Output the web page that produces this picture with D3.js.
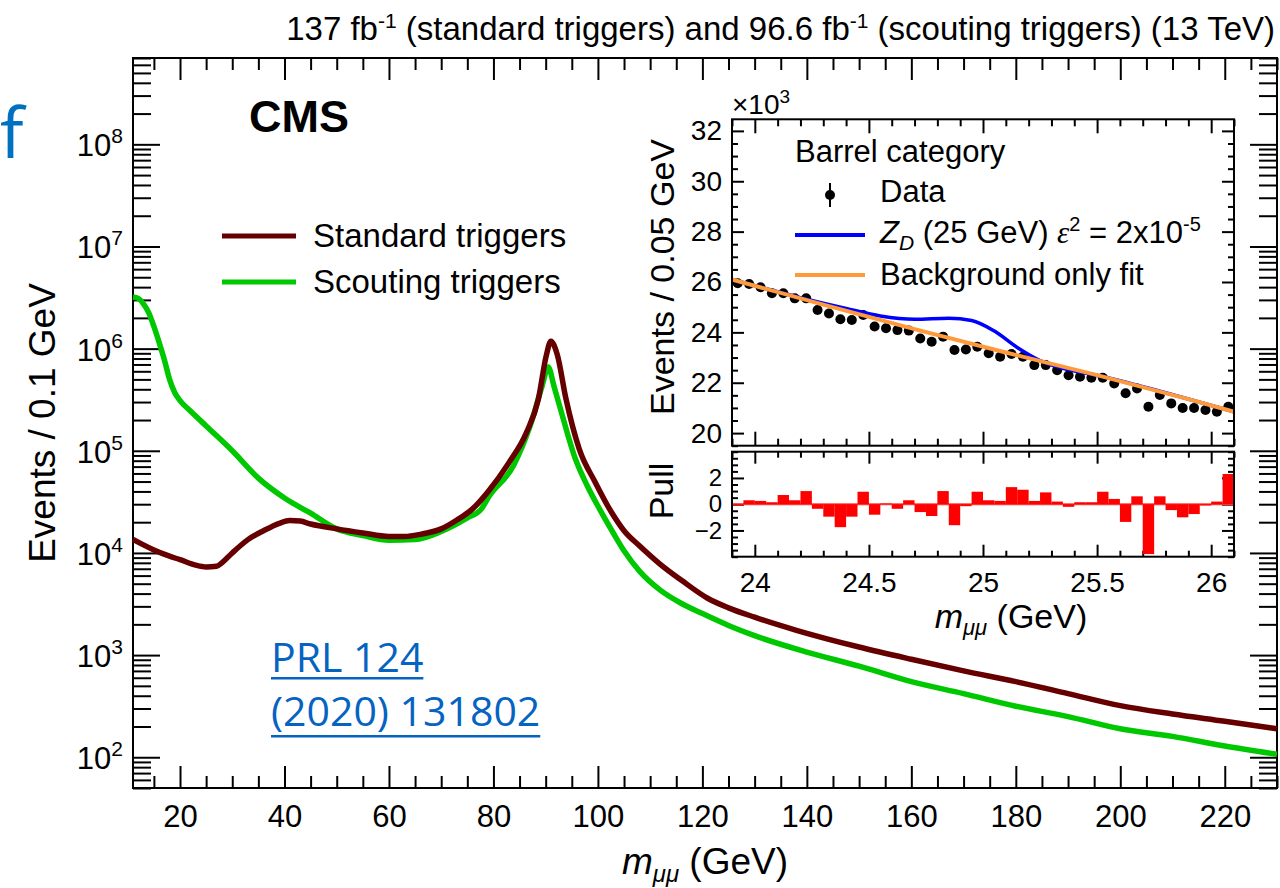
<!DOCTYPE html>
<html lang="en">
<head>
<meta charset="UTF-8">
<title>CMS dimuon spectrum</title>
<script src="https://d3js.org/d3.v7.min.js"></script>
<style>
  body { margin: 0; background: #fff; }
  svg { display: block; }
</style>
</head>
<body>
<svg id="mainsvg" width="1280" height="888"></svg>
<script>
// ---- data ----
// main plot: m_mumu (GeV) vs events / 0.1 GeV
const stdMass   = [11, 13, 15, 18, 20, 23, 25, 27, 28, 30, 33, 36, 39, 41, 43, 45, 50, 55, 60, 63, 66, 70, 73, 76, 79, 83, 86.3, 88.6, 90.1, 91.0, 92.2, 93.9, 96.4, 99.5, 102.6, 105, 108, 112, 116, 121, 125, 130, 138, 150, 160, 170, 180, 190, 200, 210, 220, 230];
const stdEvents = [13600, 12000, 10700, 9300, 8600, 7600, 7300, 7400, 8000, 10000, 13500, 16500, 19500, 20800, 20500, 19200, 17200, 15700, 14500, 14500, 15200, 17200, 21000, 27000, 40000, 77000, 150000, 320000, 850000, 1180000, 880000, 320000, 105000, 49000, 25000, 16500, 11700, 7700, 5400, 3600, 2900, 2350, 1750, 1200, 910, 700, 550, 420, 320, 265, 225, 190];

const scoMass   = [11, 12, 13, 14, 15, 16, 17, 18, 19, 20, 22, 25, 30, 35, 40, 45, 50, 55, 60, 65, 70, 75, 77.7, 79.2, 83.8, 87, 89.3, 90.5, 91.6, 93.2, 95.7, 98, 100.3, 103, 105, 108, 112, 116, 120, 125, 130, 140, 150, 160, 170, 180, 190, 200, 210, 220, 230];
const scoEvents = [3200000, 3100000, 2750000, 2250000, 1650000, 1150000, 780000, 500000, 370000, 310000, 245000, 175000, 100000, 54000, 34500, 24500, 17200, 14800, 13300, 13500, 16200, 22000, 27000, 36000, 71000, 174000, 427000, 660000, 427000, 220000, 83000, 45000, 27000, 15500, 10500, 6600, 4300, 3200, 2550, 1950, 1550, 1070, 780, 550, 420, 316, 250, 190, 160, 129, 107];

// inset: 0.05 GeV bins, events in units of 10^3
const binLo = [23.90, 23.95, 24.00, 24.05, 24.10, 24.15, 24.20, 24.25, 24.30, 24.35, 24.40, 24.45, 24.50, 24.55, 24.60, 24.65, 24.70, 24.75, 24.80, 24.85, 24.90, 24.95,
               25.00, 25.05, 25.10, 25.15, 25.20, 25.25, 25.30, 25.35, 25.40, 25.45, 25.50, 25.55, 25.60, 25.65, 25.70, 25.75, 25.80, 25.85, 25.90, 25.95, 26.00, 26.05];
const dataK = [25.95, 25.92, 25.79, 25.55, 25.55, 25.35, 25.35, 24.89, 24.75, 24.52, 24.49, 24.69, 24.23, 24.16, 24.09, 24.07, 23.76, 23.63, 23.83, 23.30, 23.32, 23.43,
               23.17, 23.03, 23.14, 23.03, 22.70, 22.70, 22.50, 22.30, 22.24, 22.20, 22.20, 21.97, 21.58, 21.77, 21.05, 21.51, 21.18, 21.00, 21.00, 20.92, 20.85, 21.05];
const pulls = [-0.1, 0.3, 0.25, 0.15, 0.7, 0.3, 1.0, -0.35, -0.95, -1.75, -0.95, 0.95, -0.8, 0.05, -0.35, 0.3, -0.6, -0.9, 1.0, -1.6, -0.15, 0.95,
               0.3, 0.25, 1.3, 1.1, 0.25, 0.9, 0.2, -0.2, 0.15, 0.15, 0.95, 0.4, -1.35, 0.6, -3.8, 0.6, -0.45, -1.0, -0.75, -0.1, 0.2, 2.3];
const binWidth = 0.05;

const bkgMass = [23.9, 24.3, 24.7, 25.1, 25.5, 25.9, 26.1];
const bkgK    = [26.10, 25.10, 24.13, 23.20, 22.30, 21.35, 20.85];
const sigMass = [23.9, 24.2, 24.4, 24.55, 24.7, 24.85, 24.95, 25.05, 25.15, 25.25, 25.35, 25.5, 25.8, 26.1];
const sigK    = [26.10, 25.38, 24.95, 24.65, 24.52, 24.56, 24.47, 24.05, 23.40, 22.88, 22.57, 22.30, 21.60, 20.85];

const xMajor = [20, 40, 60, 80, 100, 120, 140, 160, 180, 200, 220];
const xMinor = d3.range(15, 231, 5).filter(v => v % 20 !== 0);
const yExpo = [2, 3, 4, 5, 6, 7, 8];
const insetXMajor = [24, 24.5, 25, 25.5, 26];
const insetYMajor = [20, 22, 24, 26, 28, 30, 32];
const pullMajor = [-2, 0, 2];

const FONT = "Liberation Sans, Arial, Helvetica, sans-serif";
const STD_COLOR = "#660000";
const SCO_COLOR = "#00c800";

const svg = d3.select("#mainsvg");

// ---- main frame ----
const x = d3.scaleLinear().domain([11, 230]).range([133, 1277]);
const y = d3.scaleLog().domain([50, 7e8]).range([788, 58]);
const [x0, x1] = x.range();
const [y0, y1] = y.range();

function styleAxis(sel, size) {
    sel.select(".domain").remove();
    sel.selectAll("line").attr("stroke", "#000").attr("stroke-width", 2);
    sel.attr("font-family", FONT).attr("font-size", size);
    sel.selectAll("text").attr("fill", "#000");
}

const yMinor = [];
yExpo.concat([1]).forEach(e => {
    for (let k = 2; k <= 9; k++) {
        const v = k * Math.pow(10, e);
        if (v >= 50 && v <= 7e8) yMinor.push(v);
    }
});
const yMajorVals = yExpo.map(e => Math.pow(10, e));

// x axes, bottom (labelled) and top
svg.append("g").attr("transform", `translate(0,${y0})`)
    .call(d3.axisBottom(x).tickValues(xMajor).tickSize(-22).tickPadding(17).tickFormat(d3.format("d")))
    .call(g => styleAxis(g, 31));
svg.append("g").attr("transform", `translate(0,${y0})`)
    .call(d3.axisBottom(x).tickValues(xMinor).tickSize(-12).tickFormat(""))
    .call(g => styleAxis(g, 10));
svg.append("g").attr("transform", `translate(0,${y1})`)
    .call(d3.axisTop(x).tickValues(xMajor).tickSize(-22).tickFormat(""))
    .call(g => styleAxis(g, 10));
svg.append("g").attr("transform", `translate(0,${y1})`)
    .call(d3.axisTop(x).tickValues(xMinor).tickSize(-12).tickFormat(""))
    .call(g => styleAxis(g, 10));

// y axes, left and right
svg.append("g").attr("transform", `translate(${x0},0)`)
    .call(d3.axisLeft(y).tickValues(yMajorVals).tickSize(-27).tickFormat(""))
    .call(g => styleAxis(g, 10));
svg.append("g").attr("transform", `translate(${x0},0)`)
    .call(d3.axisLeft(y).tickValues(yMinor).tickSize(-18).tickFormat(""))
    .call(g => styleAxis(g, 10));
svg.append("g").attr("transform", `translate(${x1},0)`)
    .call(d3.axisRight(y).tickValues(yMajorVals).tickSize(-27).tickFormat(""))
    .call(g => styleAxis(g, 10));
svg.append("g").attr("transform", `translate(${x1},0)`)
    .call(d3.axisRight(y).tickValues(yMinor).tickSize(-18).tickFormat(""))
    .call(g => styleAxis(g, 10));

// y tick labels 10^n
const ylab = svg.append("g").attr("font-family", FONT).attr("fill", "#000");
yExpo.forEach(e => {
    const t = ylab.append("text")
        .attr("x", x0 - 10)
        .attr("y", y(Math.pow(10, e)) + 12)
        .attr("text-anchor", "end")
        .attr("font-size", 31);
    t.append("tspan").text("10");
    t.append("tspan").attr("dy", -13).attr("font-size", 21).text(e);
});

svg.append("rect")
    .attr("x", x0).attr("y", y1)
    .attr("width", x1 - x0).attr("height", y0 - y1)
    .attr("fill", "none").attr("stroke", "#000").attr("stroke-width", 2);

// curves
const line = d3.line()
    .x(d => x(d[0]))
    .y(d => y(d[1]))
    .curve(d3.curveMonotoneX);

const curves = svg.append("g");
curves.append("path")
    .datum(d3.zip(scoMass, scoEvents))
    .attr("d", line)
    .attr("fill", "none").attr("stroke", SCO_COLOR).attr("stroke-width", 5.5)
    .attr("stroke-linejoin", "round");
curves.append("path")
    .datum(d3.zip(stdMass, stdEvents))
    .attr("d", line)
    .attr("fill", "none").attr("stroke", STD_COLOR).attr("stroke-width", 5.5)
    .attr("stroke-linejoin", "round");

// axis titles
const xt = svg.append("text")
    .attr("x", (x0 + x1) / 2).attr("y", 874)
    .attr("text-anchor", "middle")
    .attr("font-family", FONT).attr("font-size", 37);
xt.append("tspan").attr("font-style", "italic").text("m");
xt.append("tspan").attr("font-style", "italic").attr("font-size", 24).attr("dy", 8).text("μμ");
xt.append("tspan").attr("dy", -8).text(" (GeV)");

svg.append("text")
    .attr("transform", `translate(55,${(y0 + y1) / 2}) rotate(-90)`)
    .attr("text-anchor", "middle")
    .attr("font-family", FONT).attr("font-size", 37)
    .text("Events / 0.1 GeV");

// header
const head = svg.append("text")
    .attr("x", 1275).attr("y", 40)
    .attr("text-anchor", "end")
    .attr("font-family", FONT).attr("font-size", 33);
head.append("tspan").text("137 fb");
head.append("tspan").attr("dy", -12).attr("font-size", 21).text("-1");
head.append("tspan").attr("dy", 12).text(" (standard triggers) and 96.6 fb");
head.append("tspan").attr("dy", -12).attr("font-size", 21).text("-1");
head.append("tspan").attr("dy", 12).text(" (scouting triggers) (13 TeV)");

svg.append("text")
    .attr("x", 249).attr("y", 132)
    .attr("font-family", FONT).attr("font-size", 45).attr("font-weight", "bold")
    .text("CMS");

svg.append("text")
    .attr("x", 0).attr("y", 158)
    .attr("font-family", "Open Sans, sans-serif").attr("font-size", 70)
    .attr("fill", "#0070c0")
    .text("f");

// main legend
const legendItems = [
    {label: "Standard triggers", color: STD_COLOR},
    {label: "Scouting triggers", color: SCO_COLOR}
];
const leg = svg.append("g").selectAll("g")
    .data(legendItems)
    .join("g")
    .attr("transform", (d, i) => `translate(222,${236 + i * 46})`);
leg.append("line")
    .attr("x1", 0).attr("x2", 74)
    .attr("stroke", d => d.color).attr("stroke-width", 5);
leg.append("text")
    .attr("x", 91).attr("y", 11)
    .attr("font-family", FONT).attr("font-size", 33)
    .text(d => d.label);

// PRL reference
const ref = svg.append("g")
    .attr("font-family", "Open Sans, sans-serif").attr("font-size", 41)
    .attr("fill", "#0563c1");
["PRL 124", "(2020) 131802"].forEach((s, i) => {
    const t = ref.append("text").attr("x", 271).attr("y", 672 + i * 54).text(s);
    const w = t.node().getComputedTextLength();
    ref.append("rect")
        .attr("x", 271).attr("y", 677 + i * 58)
        .attr("width", w).attr("height", 2.5);
});

// ---- inset ----
const ix = d3.scaleLinear().domain([23.9, 26.1]).range([732, 1234]);
const iy = d3.scaleLinear().domain([19.5, 32.46]).range([445.7, 119.3]);
const py = d3.scaleLinear().domain([-4, 4]).range([556.7, 451.7]);
const [ix0, ix1] = ix.range();

const inset = svg.append("g");
inset.append("rect")
    .attr("x", ix0).attr("y", iy.range()[1])
    .attr("width", ix1 - ix0).attr("height", iy.range()[0] - iy.range()[1])
    .attr("fill", "#fff");
inset.append("rect")
    .attr("x", ix0).attr("y", py.range()[1])
    .attr("width", ix1 - ix0).attr("height", py.range()[0] - py.range()[1])
    .attr("fill", "#fff");

const insetXMinor = d3.range(23.9, 26.11, 0.1).map(v => +v.toFixed(2)).filter(v => !insetXMajor.includes(v));
const insetYMinor = d3.range(19.5, 32.46, 0.5).filter(v => !insetYMajor.includes(v));
const pullMinor = d3.range(-4, 4.01, 0.5).filter(v => !pullMajor.includes(v));

function insetTicks(yScale, yMaj, yMin, xMajLen, yMajLen) {
    const [b, t] = yScale.range();
    [[b, d3.axisBottom], [t, d3.axisTop]].forEach(([pos, ax]) => {
        inset.append("g").attr("transform", `translate(0,${pos})`)
            .call(ax(ix).tickValues(insetXMajor).tickSize(-xMajLen).tickFormat(""))
            .call(g => styleAxis(g, 10));
        inset.append("g").attr("transform", `translate(0,${pos})`)
            .call(ax(ix).tickValues(insetXMinor).tickSize(-xMajLen / 2).tickFormat(""))
            .call(g => styleAxis(g, 10));
    });
    [[ix0, d3.axisLeft], [ix1, d3.axisRight]].forEach(([pos, ax]) => {
        inset.append("g").attr("transform", `translate(${pos},0)`)
            .call(ax(yScale).tickValues(yMaj).tickSize(-yMajLen).tickFormat(""))
            .call(g => styleAxis(g, 10));
        inset.append("g").attr("transform", `translate(${pos},0)`)
            .call(ax(yScale).tickValues(yMin).tickSize(-yMajLen / 2).tickFormat(""))
            .call(g => styleAxis(g, 10));
    });
}
insetTicks(iy, insetYMajor, insetYMinor, 14, 12);
insetTicks(py, pullMajor, pullMinor, 12, 12);

// inset tick labels
inset.append("g").attr("transform", `translate(${ix0},0)`)
    .call(d3.axisLeft(iy).tickValues(insetYMajor).tickSize(0).tickPadding(10).tickFormat(d3.format("d")))
    .call(g => styleAxis(g, 28));
inset.append("g").attr("transform", `translate(${ix0},0)`)
    .call(d3.axisLeft(py).tickValues(pullMajor).tickSize(0).tickPadding(10).tickFormat(d => d < 0 ? "\u2212" + (-d) : d))
    .call(g => styleAxis(g, 24));
inset.append("g").attr("transform", `translate(0,${py.range()[0]})`)
    .call(d3.axisBottom(ix).tickValues(insetXMajor).tickSize(0).tickPadding(15).tickFormat(d => d))
    .call(g => styleAxis(g, 28));

// x10^3
const mult = inset.append("text")
    .attr("x", ix0).attr("y", 114)
    .attr("font-family", FONT).attr("font-size", 28);
mult.append("tspan").text("\u00d710");
mult.append("tspan").attr("dy", -11).attr("font-size", 19).text("3");

// data, signal, background
const bins = binLo.map((lo, i) => ({lo, mid: lo + binWidth / 2, k: dataK[i], pull: pulls[i]}));
inset.append("g").selectAll("circle")
    .data(bins)
    .join("circle")
    .attr("cx", d => ix(d.mid))
    .attr("cy", d => iy(d.k))
    .attr("r", 5)
    .attr("fill", "#000");

const iline = d3.line()
    .x(d => ix(d[0]))
    .y(d => iy(d[1]))
    .curve(d3.curveMonotoneX);
inset.append("path")
    .datum(d3.zip(sigMass, sigK))
    .attr("d", iline)
    .attr("fill", "none").attr("stroke", "#0000ff").attr("stroke-width", 3.5);
inset.append("path")
    .datum(d3.zip(bkgMass, bkgK))
    .attr("d", iline)
    .attr("fill", "none").attr("stroke", "#ff9a3c").attr("stroke-width", 4);

// pull histogram
inset.append("line")
    .attr("x1", ix0).attr("x2", ix1)
    .attr("y1", py(0)).attr("y2", py(0))
    .attr("stroke", "#ff4040").attr("stroke-width", 2);
inset.append("g").selectAll("rect")
    .data(bins)
    .join("rect")
    .attr("x", d => ix(d.lo))
    .attr("width", d => ix(d.lo + binWidth) - ix(d.lo))
    .attr("y", d => py(Math.max(0, d.pull)))
    .attr("height", d => Math.abs(py(d.pull) - py(0)))
    .attr("fill", "#ff0000");

// inset frames
[iy, py].forEach(s => {
    inset.append("rect")
        .attr("x", ix0).attr("y", s.range()[1])
        .attr("width", ix1 - ix0).attr("height", s.range()[0] - s.range()[1])
        .attr("fill", "none").attr("stroke", "#000").attr("stroke-width", 2);
});

// inset titles
const ixt = inset.append("text")
    .attr("x", 1011).attr("y", 628)
    .attr("text-anchor", "middle")
    .attr("font-family", FONT).attr("font-size", 34);
ixt.append("tspan").attr("font-style", "italic").text("m");
ixt.append("tspan").attr("font-style", "italic").attr("font-size", 22).attr("dy", 7).text("μμ");
ixt.append("tspan").attr("dy", -7).text(" (GeV)");

inset.append("text")
    .attr("transform", "translate(674,277) rotate(-90)")
    .attr("text-anchor", "middle")
    .attr("font-family", FONT).attr("font-size", 34)
    .text("Events / 0.05 GeV");
inset.append("text")
    .attr("transform", "translate(673,491) rotate(-90)")
    .attr("text-anchor", "middle")
    .attr("font-family", FONT).attr("font-size", 34)
    .text("Pull");

// inset legend
const il = inset.append("g").attr("font-family", FONT).attr("font-size", 31);
il.append("text").attr("x", 795).attr("y", 162).text("Barrel category");
il.append("line").attr("x1", 830).attr("x2", 830).attr("y1", 183).attr("y2", 207)
    .attr("stroke", "#000").attr("stroke-width", 2);
il.append("circle").attr("cx", 830).attr("cy", 195).attr("r", 5).attr("fill", "#000");
il.append("text").attr("x", 880).attr("y", 202).text("Data");
il.append("line").attr("x1", 795).attr("x2", 865).attr("y1", 235).attr("y2", 235)
    .attr("stroke", "#0000ff").attr("stroke-width", 4);
const zt = il.append("text").attr("x", 880).attr("y", 243);
zt.append("tspan").attr("font-style", "italic").text("Z");
zt.append("tspan").attr("font-style", "italic").attr("font-size", 21).attr("dy", 7).text("D");
zt.append("tspan").attr("dy", -7).text(" (25 GeV) ");
zt.append("tspan").attr("font-family", "Liberation Serif, DejaVu Serif, serif").attr("font-style", "italic").text("\u03b5");
zt.append("tspan").attr("dy", -12).attr("font-size", 20).text("2");
zt.append("tspan").attr("dy", 12).text(" = 2x10");
zt.append("tspan").attr("dy", -12).attr("font-size", 20).text("-5");
il.append("line").attr("x1", 795).attr("x2", 865).attr("y1", 275).attr("y2", 275)
    .attr("stroke", "#ff9a3c").attr("stroke-width", 4);
il.append("text").attr("x", 880).attr("y", 285).text("Background only fit");
</script>
</body>
</html>
